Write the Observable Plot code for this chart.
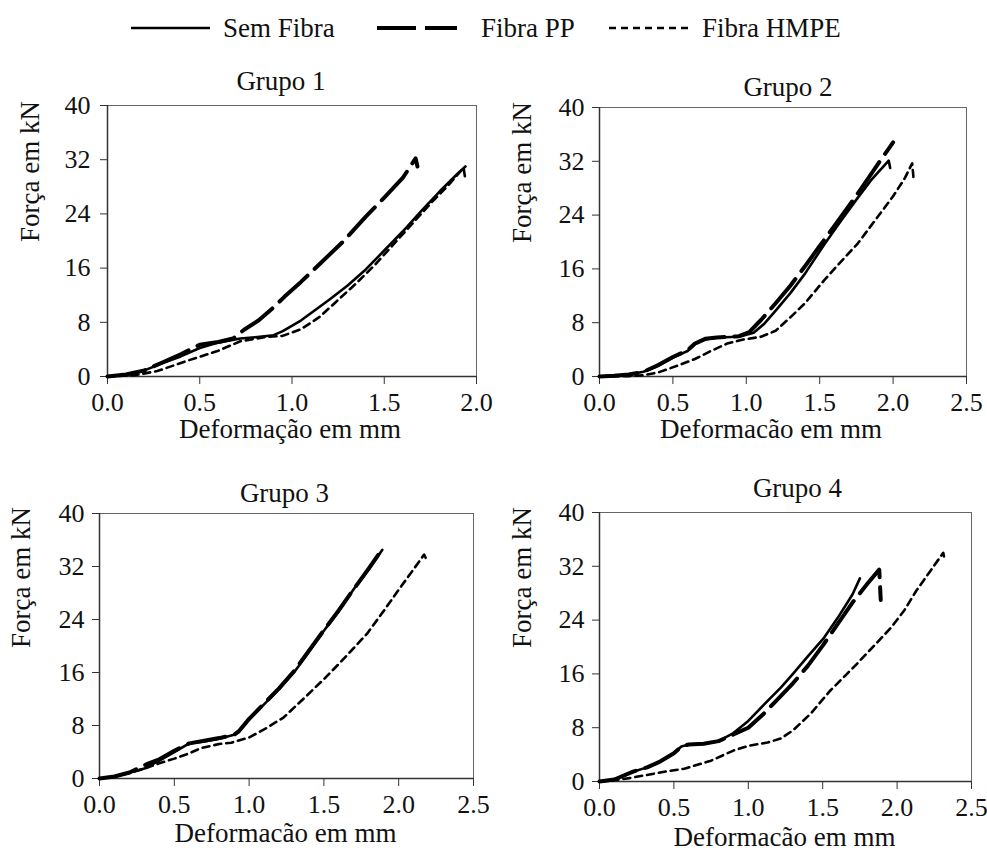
<!DOCTYPE html>
<html><head><meta charset="utf-8">
<script src="https://cdn.jsdelivr.net/npm/d3@7"></script>
<script src="https://cdn.jsdelivr.net/npm/@observablehq/plot@0.6"></script>
<style>
body{margin:0;background:#fff;}
#root{position:relative;width:987px;height:852px;font-family:"Liberation Serif",serif;overflow:hidden;}
#root svg{position:absolute;}
</style></head><body><div id="root"></div>
<script>
// ---- categories & ticks ----
const seriesNames = ["Sem Fibra", "Fibra PP", "Fibra HMPE"];
const groupTitles = ["Grupo 1", "Grupo 2", "Grupo 3", "Grupo 4"];
const yTicks = [0, 8, 16, 24, 32, 40];
const xTicks1 = [0, 0.5, 1.0, 1.5, 2.0];
const xTicks2 = [0, 0.5, 1.0, 1.5, 2.0, 2.5];
const yLabel = "Força em kN";
const xLabel1 = "Deformação em mm";
const xLabel2 = "Deformacão em mm";

// ---- data: [deformação (mm), força (kN)] ----
const g1Sem = [[0,0],[0.14,0.4],[0.2,0.9],[0.3,2.0],[0.4,3.0],[0.5,4.2],[0.6,5.0],[0.72,5.6],[0.8,5.8],[0.9,6.1],[0.95,6.7],[1.05,8.3],[1.1,9.3],[1.2,11.3],[1.3,13.4],[1.4,15.8],[1.5,18.6],[1.6,21.4],[1.7,24.4],[1.8,27.3],[1.9,30.0],[1.94,31.0]];
const g1PP = [[0,0],[0.1,0.3],[0.2,0.9],[0.3,2.1],[0.4,3.3],[0.45,4.0],[0.5,4.7],[0.6,5.1],[0.68,5.6],[0.74,6.9],[0.82,8.3],[0.9,10.2],[0.96,11.8],[1.05,14.0],[1.15,16.6],[1.28,20.0],[1.4,23.6],[1.5,26.4],[1.6,29.3],[1.67,32.2],[1.68,31.0]];
const g1HMPE = [[0,0],[0.15,0.2],[0.27,0.8],[0.43,2.3],[0.6,3.8],[0.72,5.2],[0.85,5.8],[0.95,6.0],[1.05,7.0],[1.15,8.8],[1.25,11.3],[1.35,13.8],[1.45,16.5],[1.55,19.5],[1.65,22.5],[1.75,25.5],[1.85,28.3],[1.93,30.8],[1.94,29.0]];

const g2Sem = [[0,0],[0.1,0.1],[0.2,0.3],[0.3,0.7],[0.4,1.6],[0.5,2.8],[0.6,3.8],[0.65,4.8],[0.72,5.5],[0.8,5.8],[0.95,5.9],[1.05,6.5],[1.12,7.8],[1.2,9.8],[1.3,12.4],[1.4,15.3],[1.53,19.6],[1.65,23.3],[1.75,26.3],[1.85,29.2],[1.97,32.1],[1.98,31.0]];
const g2PP = [[0,0],[0.1,0.1],[0.2,0.3],[0.3,0.7],[0.4,1.7],[0.5,2.9],[0.6,3.9],[0.65,4.9],[0.72,5.6],[0.8,5.8],[0.95,6.0],[1.02,6.6],[1.1,8.4],[1.2,10.9],[1.3,13.5],[1.4,16.4],[1.5,19.4],[1.6,22.4],[1.7,25.4],[1.8,28.5],[1.9,31.7],[2.0,34.8]];
const g2HMPE = [[0,0],[0.2,0.05],[0.3,0.2],[0.4,0.6],[0.53,1.6],[0.65,2.6],[0.76,3.8],[0.87,4.9],[0.98,5.5],[1.1,5.9],[1.2,6.8],[1.3,8.8],[1.4,10.9],[1.53,14.3],[1.65,17.2],[1.76,19.8],[1.88,23.3],[2.0,26.8],[2.08,29.5],[2.13,31.7],[2.14,29.3]];

const g3Sem = [[0,0],[0.1,0.3],[0.2,0.9],[0.3,1.5],[0.4,2.7],[0.5,4.0],[0.6,5.3],[0.7,5.6],[0.8,6.0],[0.9,6.6],[0.93,7.0],[1.0,8.9],[1.1,11.2],[1.2,13.5],[1.3,16.0],[1.4,19.1],[1.5,22.3],[1.6,25.3],[1.7,28.6],[1.8,31.6],[1.89,34.5]];
const g3PP = [[0,0],[0.1,0.3],[0.2,0.9],[0.32,2.2],[0.4,2.9],[0.5,4.2],[0.6,5.3],[0.7,5.7],[0.8,6.1],[0.9,6.6],[0.93,7.1],[1.0,9.0],[1.1,11.3],[1.2,13.6],[1.3,16.2],[1.4,19.3],[1.5,22.4],[1.6,25.4],[1.7,28.6],[1.8,31.7],[1.88,34.3]];
const g3HMPE = [[0,0],[0.1,0.3],[0.2,0.8],[0.3,1.5],[0.4,2.3],[0.5,3.0],[0.6,3.8],[0.68,4.6],[0.8,5.2],[0.88,5.4],[1.0,6.2],[1.1,7.4],[1.23,9.2],[1.39,12.6],[1.5,15.0],[1.6,17.3],[1.7,19.7],[1.79,21.9],[1.9,25.3],[2.01,28.8],[2.1,31.6],[2.17,33.8],[2.18,33.3]];

const g4Sem = [[0,0],[0.1,0.3],[0.23,1.5],[0.32,2.1],[0.41,3.0],[0.5,4.2],[0.55,5.2],[0.6,5.5],[0.7,5.6],[0.8,6.0],[0.9,7.2],[1.0,9.0],[1.13,12.0],[1.22,14.0],[1.3,16.0],[1.4,18.6],[1.51,21.4],[1.6,24.3],[1.7,27.8],[1.75,30.2]];
const g4PP = [[0,0],[0.1,0.3],[0.23,1.5],[0.32,2.1],[0.41,3.0],[0.5,4.2],[0.55,5.2],[0.6,5.5],[0.7,5.6],[0.8,6.0],[0.9,7.0],[1.0,8.0],[1.1,10.0],[1.2,12.3],[1.3,14.6],[1.4,17.2],[1.5,20.2],[1.6,23.4],[1.7,26.6],[1.8,29.4],[1.88,31.5],[1.89,27.0]];
const g4HMPE = [[0,0],[0.1,0.2],[0.2,0.5],[0.3,0.9],[0.45,1.5],[0.57,1.9],[0.75,3.1],[0.9,4.6],[1.0,5.3],[1.13,5.8],[1.22,6.4],[1.3,7.6],[1.42,10.1],[1.55,13.5],[1.73,17.5],[1.85,20.3],[1.96,22.9],[2.05,25.5],[2.13,28.4],[2.22,31.2],[2.31,34.0],[2.32,33.0]];

// ---- styles ----
const FONT = "Liberation Serif";
const lineStyles = [
  {strokeWidth: 2.6, strokeDasharray: null},
  {strokeWidth: 4, strokeDasharray: "38,10"},
  {strokeWidth: 2.6, strokeDasharray: "7,5"}
];

const panels = [
  {title: groupTitles[0], data: [g1Sem, g1PP, g1HMPE], xmax: 2.0, xticks: xTicks1, xlab: xLabel1,
   left: 0, top: 60, width: 490, height: 400, mL: 107, mR: 14, mT: 45, mB: 84,
   t: [-11, -24], yl: [-77, 1], xl: [-2, 53], yPad: 10},
  {title: groupTitles[1], data: [g2Sem, g2PP, g2HMPE], xmax: 2.5, xticks: xTicks2, xlab: xLabel2,
   left: 490, top: 60, width: 497, height: 400, mL: 109, mR: 21, mT: 47, mB: 84,
   t: [5, -20], yl: [-77, 1], xl: [-12, 53], yPad: 8},
  {title: groupTitles[2], data: [g3Sem, g3PP, g3HMPE], xmax: 2.5, xticks: xTicks2, xlab: xLabel2,
   left: 0, top: 460, width: 490, height: 392, mL: 99, mR: 17, mT: 53, mB: 74,
   t: [-2, -20], yl: [-78, 2], xl: [-1, 55], yPad: 8},
  {title: groupTitles[3], data: [g4Sem, g4PP, g4HMPE], xmax: 2.5, xticks: xTicks2, xlab: xLabel2,
   left: 490, top: 460, width: 497, height: 392, mL: 109, mR: 16, mT: 52, mB: 71,
   t: [12, -24], yl: [-77, 1], xl: [-1, 56], yPad: 8}
];

const root = document.getElementById("root");

// ---- legend ----
const leg = d3.create("svg").attr("width", 987).attr("height", 60)
  .style("left", "0px").style("top", "0px");
const legItems = [
  {x1: 131, x2: 210, tx: 223},
  {x1: 377, x2: 457, tx: 481},
  {x1: 609, x2: 691, tx: 702}
];
legItems.forEach((it, i) => {
  leg.append("line").attr("x1", it.x1).attr("x2", it.x2).attr("y1", 28).attr("y2", 28)
    .attr("stroke", "black").attr("stroke-width", lineStyles[i].strokeWidth)
    .attr("stroke-dasharray", i === 1 ? "39,9" : lineStyles[i].strokeDasharray);
  leg.append("text").attr("x", it.tx).attr("y", 28).attr("dy", "0.32em")
    .attr("font-family", FONT).attr("font-size", 27).attr("fill", "#111").text(seriesNames[i]);
});
root.appendChild(leg.node());

// ---- panels ----
panels.forEach(p => {
  const marks = [
    Plot.frame({stroke: "#666", strokeWidth: 1}),
    Plot.ruleX([0], {stroke: "#333", strokeWidth: 1.5}),
    Plot.ruleY([0], {stroke: "#333", strokeWidth: 1.5}),
    Plot.axisX({ticks: p.xticks, tickFormat: d3.format(".1f"), tickSize: 8, tickPadding: 8,
      fontSize: 26, fontFamily: FONT, stroke: "#333", fill: "#111", label: null}),
    Plot.axisY({ticks: yTicks, tickSize: 7, tickPadding: p.yPad, fontSize: 26, fontFamily: FONT,
      stroke: "#333", fill: "#111", label: null})
  ];
  p.data.forEach((d, i) => {
    marks.push(Plot.line(d, {x: v => v[0], y: v => v[1], stroke: "black",
      strokeWidth: lineStyles[i].strokeWidth,
      strokeDasharray: lineStyles[i].strokeDasharray,
      strokeLinejoin: "round"}));
  });
  marks.push(Plot.text([p.title], {text: d => d, frameAnchor: "top", lineAnchor: "middle",
    dx: p.t[0], dy: p.t[1], fontSize: 27, fontFamily: FONT, fill: "#111"}));
  marks.push(Plot.text([yLabel], {text: d => d, frameAnchor: "left", lineAnchor: "middle",
    rotate: -90, dx: p.yl[0], dy: p.yl[1], fontSize: 27, fontFamily: FONT, fill: "#111"}));
  marks.push(Plot.text([p.xlab], {text: d => d, frameAnchor: "bottom", lineAnchor: "middle",
    dx: p.xl[0], dy: p.xl[1], fontSize: 27, fontFamily: FONT, fill: "#111"}));

  const svg = Plot.plot({
    width: p.width, height: p.height,
    marginLeft: p.mL, marginRight: p.mR, marginTop: p.mT, marginBottom: p.mB,
    x: {domain: [0, p.xmax], axis: null},
    y: {domain: [0, 40], axis: null},
    style: {background: "transparent", overflow: "visible"},
    marks
  });
  svg.style.left = p.left + "px";
  svg.style.top = p.top + "px";
  root.appendChild(svg);
});
</script>
</body></html>
